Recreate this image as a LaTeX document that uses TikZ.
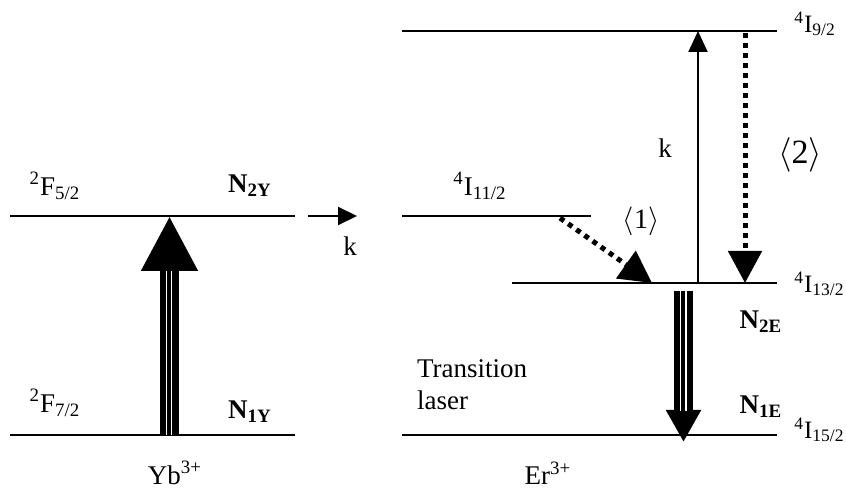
\documentclass[tikz,border=0pt]{standalone}
\usepackage{fontspec}
\setmainfont{Liberation Serif}
\usepackage{amsmath,amssymb}
\usetikzlibrary{arrows.meta,positioning,calc}

\begin{document}
\begin{tikzpicture}[x=0.5pt,y=-0.5pt,
    level/.style={line width=1pt},
    thin arrow/.style={line width=1pt,-{Triangle[length=10.5pt,width=9.5pt]}},
    dotted arrow/.style={line width=2.5pt,dash pattern=on 2.5pt off 2.5pt,-{Triangle[length=16pt,width=16.5pt]}},
    big shaft/.style={line width=9.5pt},
    erlabel/.style={anchor=west,inner sep=0pt,font=\fontsize{12.5}{15}\selectfont},
    every node/.style={font=\fontsize{13.5}{16}\selectfont}]
  \useasboundingbox (0,0) rectangle (846,491);
  % levels of Yb
  \coordinate (F52a) at (10,216);  \coordinate (F52b) at (295,216);
  \coordinate (F72a) at (10,435);  \coordinate (F72b) at (295,435);
  \draw[level] (F52a) -- (F52b);
  \draw[level] (F72a) -- (F72b);
  % levels of Er
  \coordinate (I92a) at (402,31);   \coordinate (I92b) at (777,31);
  \coordinate (I112a) at (402,216); \coordinate (I112b) at (591,216);
  \coordinate (I132a) at (512,283); \coordinate (I132b) at (777,283);
  \coordinate (I152a) at (402,435); \coordinate (I152b) at (777,435);
  \foreach \l in {I92,I112,I132,I152}{
    \draw[level] (\l a) -- (\l b);
  }
  % labels
  \node (lF52) at (55,186) {\textsuperscript{2}F\textsubscript{5/2}};
  \node (lF72) at (55,403) {\textsuperscript{2}F\textsubscript{7/2}};
  \node (nN2Y) at (250,186) {\textbf{N\textsubscript{2Y}}};
  \node (nN1Y) at (250,412) {\textbf{N\textsubscript{1Y}}};
  \node (lI112) at (480,186) {\textsuperscript{4}I\textsubscript{11/2}};
  \node[erlabel] (lI92) at (794,24) {\textsuperscript{4}I\textsubscript{9/2}};
  \node[erlabel] (lI132) at (794,284) {\textsuperscript{4}I\textsubscript{13/2}};
  \node[erlabel] (lI152) at (794,430) {\textsuperscript{4}I\textsubscript{15/2}};
  \node (nN2E) at (761,322) {\textbf{N\textsubscript{2E}}};
  \node (nN1E) at (761,407) {\textbf{N\textsubscript{1E}}};
  \node (ion1) at (175,473) {Yb\textsuperscript{3+}};
  \node (ion2) at (548,473) {Er\textsuperscript{3+}};
  \node[align=left,anchor=west] (trans) at (410,385) {Transition\\laser};
  % pumping of Yb
  \coordinate (p1) at (169.5,435); \coordinate (p2) at (169.5,216);
  \draw[big shaft,-{Triangle[length=27.5pt,width=26.5pt]}] (p1) -- (p2);
  \draw[white,line width=0.5pt] (166.5,435) -- (166.5,271);
  \draw[white,line width=0.7pt] (171.5,435) -- (171.5,271);
  % transfer Yb -> Er
  \coordinate (t1) at (308,216); \coordinate (t2) at (357,216);
  \draw[line width=1pt,-{Triangle[length=9.5pt,width=9pt]}] (t1) -- (t2);
  \node (k1) at (350,246) {k};
  % up-conversion
  \coordinate (u1) at (698,283); \coordinate (u2) at (698,31);
  \draw[thin arrow] (u1) -- (u2);
  \node (k2) at (665,148) {k};
  % relaxations
  \coordinate (r1) at (745,33); \coordinate (r2) at (745,283);
  \draw[dotted arrow] (r1) -- (r2);
  \node (c2) at (800,155) {\fontsize{17}{20}\selectfont$\langle$2$\rangle$};
  \coordinate (s1) at (560,218); \coordinate (s2) at (652,283);
  \draw[dotted arrow] (s1) -- (s2);
  \node (c1) at (641,221) {\fontsize{14}{17}\selectfont$\langle$1$\rangle$};
  % laser transition
  \coordinate (e1) at (683.5,291); \coordinate (e2) at (683.5,442);
  \draw[big shaft,-{Triangle[length=16pt,width=16.5pt]}] (e1) -- (e2);
  \draw[white,line width=0.5pt] (680,291) -- (680,411);
  \draw[white,line width=0.7pt] (686,291) -- (686,411);
\end{tikzpicture}
\end{document}
